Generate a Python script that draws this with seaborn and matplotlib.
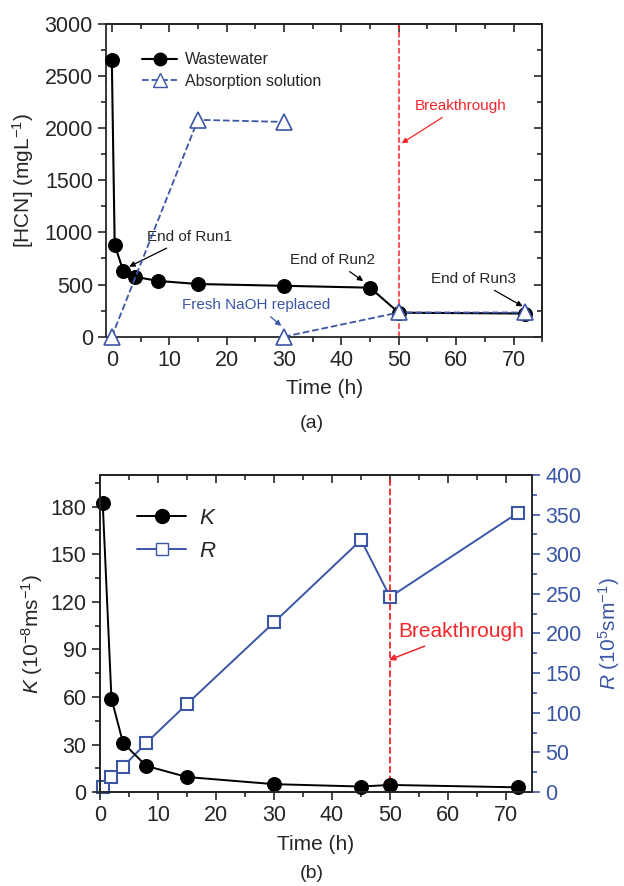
import numpy as np
import pandas as pd
import seaborn as sns
import matplotlib.pyplot as plt
from matplotlib.lines import Line2D
from matplotlib.ticker import MultipleLocator

# --- data ---
ww_time = [0, 0.5, 2, 4, 8, 15, 30, 45, 50, 72]
ww_hcn = [2650, 880, 630, 575, 535, 505, 488, 470, 230, 222]

abs_time_run1 = [0, 15, 30]
abs_hcn_run1 = [0, 2080, 2060]
abs_time_run2 = [30, 50, 72]
abs_hcn_run2 = [0, 232, 232]

kr_time = [0.5, 2, 4, 8, 15, 30, 45, 50, 72]
k_vals = [182, 59, 31, 16.5, 9.5, 5, 3.5, 4.5, 3]
r_vals = [6, 19, 32, 62, 111, 214, 318, 246, 352]

breakthrough = 50

sns.set_style('ticks')
plt.rcParams['font.family'] = ['Liberation Sans', 'DejaVu Sans']
plt.rcParams['mathtext.fontset'] = 'custom'
plt.rcParams['mathtext.rm'] = 'Liberation Sans'
plt.rcParams['mathtext.it'] = 'Liberation Sans:italic'

blue = '#3c56a6'
red = '#f5262a'
tick_fs = 15.5
label_fs = 15
ann_fs = 11


def style_ticks(a, major, minor):
    a.tick_params(which='both', labelsize=tick_fs, width=1.2, direction='out')
    a.tick_params(which='major', length=6)
    a.tick_params(which='minor', length=3.5)
    for s in a.spines.values():
        s.set_linewidth(1.3)


def mirror(a, side, major, minor):
    # ticks on the opposite side pointing inward, no labels
    if side == 'top':
        sec = a.secondary_xaxis('top')
        axis = sec.xaxis
    else:
        sec = a.secondary_yaxis('right')
        axis = sec.yaxis
    axis.set_major_locator(MultipleLocator(major))
    axis.set_minor_locator(MultipleLocator(minor))
    sec.tick_params(which='both', direction='in', width=1.2,
                    labeltop=False, labelright=False)
    sec.tick_params(which='major', length=6)
    sec.tick_params(which='minor', length=3.5)
    for s in sec.spines.values():
        s.set_linewidth(1.3)


fig = plt.figure(figsize=(6.24, 8.86), dpi=100)

# ---------------- (a) ----------------
ax = fig.add_axes([0.170, 0.620, 0.699, 0.353])
df_ww = pd.DataFrame({'t': ww_time, 'c': ww_hcn})
sns.lineplot(data=df_ww, x='t', y='c', ax=ax, color='black', marker='o',
             markersize=10, markeredgecolor='black', lw=1.5, zorder=3, clip_on=False)
for tt, cc in [(abs_time_run1, abs_hcn_run1), (abs_time_run2, abs_hcn_run2)]:
    sns.lineplot(x=tt, y=cc, ax=ax, color=blue, marker='^', markersize=12,
                 markerfacecolor='white', markeredgecolor=blue, markeredgewidth=1.2,
                 linestyle='--', lw=1.3, zorder=4, clip_on=False)
ax.axvline(breakthrough, color=red, ls='--', lw=1.1, zorder=1)

ax.set_xlim(-1, 75)
ax.set_ylim(0, 3000)
ax.xaxis.set_major_locator(MultipleLocator(10))
ax.xaxis.set_minor_locator(MultipleLocator(5))
ax.yaxis.set_major_locator(MultipleLocator(500))
ax.yaxis.set_minor_locator(MultipleLocator(250))
ax.set_xlabel('Time (h)', fontsize=label_fs, labelpad=6)
ax.set_ylabel('[HCN] (mgL$^{-1}$)', fontsize=label_fs, labelpad=6)
style_ticks(ax, 10, 5)
mirror(ax, 'top', 10, 5)
mirror(ax, 'right', 500, 250)

handles = [
    Line2D([], [], color='black', marker='o', markersize=9, lw=1.5, label='Wastewater'),
    Line2D([], [], color=blue, marker='^', markersize=10, markerfacecolor='white',
           ls='--', lw=1.3, label='Absorption solution'),
]
ax.legend(handles=handles, loc='upper left', bbox_to_anchor=(0.05, 0.955), frameon=False,
          fontsize=11.5, handlelength=2.2, handletextpad=0.5, labelspacing=0.4)

arrow_k = dict(arrowstyle='-|>', color='black', lw=0.9, mutation_scale=8, shrinkA=2, shrinkB=2)
ax.annotate('End of Run1', xy=(2.6, 660), xytext=(6.2, 960), fontsize=ann_fs,
            ha='left', va='center', arrowprops=arrow_k)
ax.annotate('End of Run2', xy=(44.2, 518), xytext=(38.5, 738), fontsize=ann_fs,
            ha='center', va='center', arrowprops=arrow_k)
ax.annotate('End of Run3', xy=(72, 278), xytext=(63.1, 556), fontsize=ann_fs,
            ha='center', va='center', arrowprops=arrow_k)
ax.annotate('Fresh NaOH replaced', xy=(29.9, 86), xytext=(25.2, 307), fontsize=ann_fs,
            color=blue, ha='center', va='center',
            arrowprops=dict(arrowstyle='-|>', color=blue, lw=0.9, mutation_scale=8, shrinkA=2, shrinkB=2))
ax.annotate('Breakthrough', xy=(50.1, 1841), xytext=(60.8, 2215), fontsize=ann_fs,
            color=red, ha='center', va='center',
            arrowprops=dict(arrowstyle='-|>', color=red, lw=0.9, mutation_scale=8, shrinkA=2, shrinkB=2))

# ---------------- (b) ----------------
axb = fig.add_axes([0.160, 0.106, 0.693, 0.358])
axr = axb.twinx()
sns.lineplot(x=kr_time, y=r_vals, ax=axr, color=blue, marker='s', markersize=9,
             markerfacecolor='white', markeredgecolor=blue, markeredgewidth=1.5, lw=1.4,
             clip_on=False)
sns.lineplot(x=kr_time, y=k_vals, ax=axb, color='black', marker='o', markersize=10,
             markeredgecolor='black', lw=1.4, clip_on=False)
axb.set_zorder(axr.get_zorder() + 1)
axb.patch.set_visible(False)
axb.axvline(breakthrough, color=red, ls='--', lw=1.3, zorder=1)

axb.set_xlim(0, 74.5)
axb.set_ylim(0, 200)
axr.set_ylim(0, 400)
axb.xaxis.set_major_locator(MultipleLocator(10))
axb.xaxis.set_minor_locator(MultipleLocator(5))
axb.yaxis.set_major_locator(MultipleLocator(30))
axb.yaxis.set_minor_locator(MultipleLocator(15))
axr.yaxis.set_major_locator(MultipleLocator(50))
axr.yaxis.set_minor_locator(MultipleLocator(25))
axb.set_xlabel('Time (h)', fontsize=label_fs, labelpad=6)
axb.set_ylabel('$K$ (10$^{-8}$ms$^{-1}$)', fontsize=label_fs, labelpad=4)
axr.set_ylabel('$R$ (10$^{5}$sm$^{-1}$)', fontsize=label_fs, color=blue, labelpad=10)
style_ticks(axb, 10, 5)
style_ticks(axr, 50, 25)
mirror(axb, 'top', 10, 5)
axr.spines['right'].set_color(blue)
axr.tick_params(axis='y', which='both', colors=blue)

handles_b = [
    Line2D([], [], color='black', marker='o', markersize=10, lw=1.4, label='$K$'),
    Line2D([], [], color=blue, marker='s', markersize=8, markerfacecolor='white', lw=1.4, label='$R$'),
]
axb.legend(handles=handles_b, loc='upper left', bbox_to_anchor=(0.04, 0.96), frameon=False,
           fontsize=16, handlelength=2.2, handletextpad=0.6, labelspacing=0.55)

axb.annotate('Breakthrough', xy=(49.6, 83), xytext=(62.3, 101), fontsize=15,
             color=red, ha='center', va='center',
             arrowprops=dict(arrowstyle='-|>', color=red, lw=1.1, mutation_scale=9, shrinkA=3, shrinkB=1))

fig.text(0.5, 1 - 423 / 886, '(a)', ha='center', va='center', fontsize=14)
fig.text(0.5, 1 - 873 / 886, '(b)', ha='center', va='center', fontsize=14)

fig.savefig('out.png', dpi=100)
